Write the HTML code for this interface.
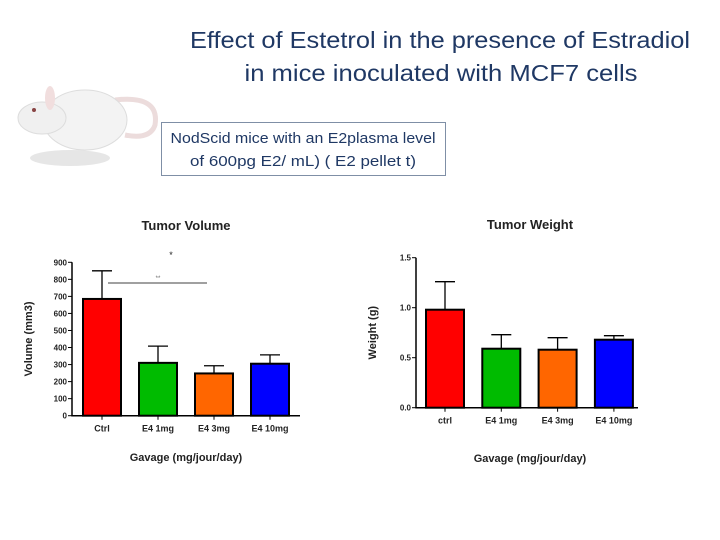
<!DOCTYPE html>
<html><head><meta charset="utf-8"><style>
body{margin:0;width:720px;height:540px;background:#fff;overflow:hidden;font-family:"Liberation Sans",sans-serif}
svg{position:absolute;left:0;top:0}
</style></head><body>
<svg id="s" width="720" height="540">
<g>
<ellipse cx="70" cy="158" rx="40" ry="8" fill="#e6e6e6"/>
<path d="M115 100 Q160 95 155 125 Q150 140 125 135" fill="none" stroke="#ecdcdc" stroke-width="5"/>
<ellipse cx="85" cy="120" rx="42" ry="30" fill="#f3f3f3" stroke="#ddd"/>
<ellipse cx="42" cy="118" rx="24" ry="16" fill="#f0f0f0" stroke="#ddd"/>
<ellipse cx="50" cy="98" rx="5" ry="12" fill="#f1dede"/>
<circle cx="34" cy="110" r="2" fill="#844"/>
</g>
<text x="440" y="48" text-anchor="middle" font-size="23" fill="#1f3864" textLength="500" lengthAdjust="spacingAndGlyphs">Effect of Estetrol in the presence of Estradiol</text>
<text x="441" y="81" text-anchor="middle" font-size="23" fill="#1f3864" textLength="393" lengthAdjust="spacingAndGlyphs">in mice inoculated with MCF7 cells</text>
<rect x="161.5" y="122.5" width="284" height="53" fill="#fff" stroke="#7f8fa6"/>
<text x="303" y="143" text-anchor="middle" font-size="14.5" fill="#1f3864" textLength="265" lengthAdjust="spacingAndGlyphs">NodScid mice with an E2plasma level</text>
<text x="303" y="166" text-anchor="middle" font-size="14.5" fill="#1f3864" textLength="226" lengthAdjust="spacingAndGlyphs">of  600pg  E2/ mL) ( E2 pellet t)</text>
</svg>
<script>
const cats1=["Ctrl","E4 1mg","E4 3mg","E4 10mg"];
const vol=[685,310,248,305];
const volErr=[850,408,293,357];
const volTicks=[0,100,200,300,400,500,600,700,800,900];
const cats2=["ctrl","E4 1mg","E4 3mg","E4 10mg"];
const wt=[0.98,0.59,0.58,0.68];
const wtErr=[1.26,0.73,0.70,0.72];
const wtTicks=[0,0.5,1.0,1.5];
const colors=["#ff0000","#00bb00","#ff6600","#0000ff"];
const NS="http://www.w3.org/2000/svg",S=document.getElementById('s');
function el(t,a,p){const e=document.createElementNS(NS,t);for(const k in a)e.setAttribute(k,a[k]);(p||S).appendChild(e);return e;}
function chart(o){
  const g=el('g',{});
  
  
  const y=v=>o.y0-(v-o.min)/(o.max-o.min)*(o.y0-o.y1);
  const ax=el('path',{d:`M${o.ax} ${o.y1}V${o.y0}H${o.axEnd}`,stroke:'#000','stroke-width':1.5,fill:'none'},g);
  
  
  o.ticks.forEach(t=>{
    el('line',{x1:o.ax-4,x2:o.ax,y1:y(t),y2:y(t),stroke:'#000'},g);
    const tx=el('text',{x:o.ax-5,y:y(t)+3,'text-anchor':'end','font-size':8,'font-weight':'bold',fill:'#222'},g);
    tx.textContent=o.fmt(t);
    
    
  });
  o.cats.forEach((c,i)=>{
    const x0=o.x0+i*o.step,cx=x0+o.bw/2;
    const e=el('path',{d:`M${cx} ${y(o.vals[i])}V${y(o.err[i])}M${cx-10} ${y(o.err[i])}H${cx+10}`,stroke:'#000','stroke-width':1.3},g);
    
    
    const r=el('rect',{x:x0,y:y(o.vals[i]),width:o.bw,height:o.y0-y(o.vals[i]),fill:colors[i],stroke:'#000','stroke-width':2},g);
    
    
    el('line',{x1:cx,x2:cx,y1:o.y0,y2:o.y0+4,stroke:'#000'},g);
    const l=el('text',{x:cx,y:o.y0+16,'text-anchor':'middle','font-size':9,'font-weight':'bold',fill:'#222'},g);
    l.textContent=c;
    
    
  });
  const t=el('text',{x:o.tx,y:o.ty,'text-anchor':'middle','font-size':13,'font-weight':'bold',fill:'#222'},g);
  t.textContent=o.title;
  
  
  const xt=el('text',{x:o.tx,y:o.xty,'text-anchor':'middle','font-size':11,'font-weight':'bold',fill:'#222'},g);
  xt.textContent='Gavage (mg/jour/day)';
  
  
  const yt=el('text',{x:0,y:0,transform:`translate(${o.ytx},${(o.y0+o.y1)/2}) rotate(-90)`,'text-anchor':'middle','font-size':11,'font-weight':'bold',fill:'#222'},g);
  yt.textContent=o.ytitle;
  
  
  return y;
}
const yv=chart({name:'tumor-volume-chart',cats:cats1,vals:vol,err:volErr,ticks:volTicks,fmt:t=>t,min:0,max:900,ax:72,axEnd:300,y0:415.7,y1:262.3,x0:83,step:56,bw:38,title:'Tumor Volume',tx:186,ty:230,xty:461,ytitle:'Volume (mm3)',ytx:32});
el('line',{x1:108,x2:207,y1:283,y2:283,stroke:'#000','stroke-width':0.8});
const st=el('text',{x:171,y:258,'text-anchor':'middle','font-size':9,fill:'#222'});st.textContent='*';


const st2=el('text',{x:158,y:280,'text-anchor':'middle','font-size':6,fill:'#666'});st2.textContent='**';


chart({name:'tumor-weight-chart',cats:cats2,vals:wt,err:wtErr,ticks:wtTicks,fmt:t=>t.toFixed(1),min:0,max:1.5,ax:416,axEnd:638,y0:407.7,y1:257.7,x0:426,step:56.3,bw:38,title:'Tumor Weight',tx:530,ty:229,xty:462,ytitle:'Weight (g)',ytx:376});
</script>
</body></html>
